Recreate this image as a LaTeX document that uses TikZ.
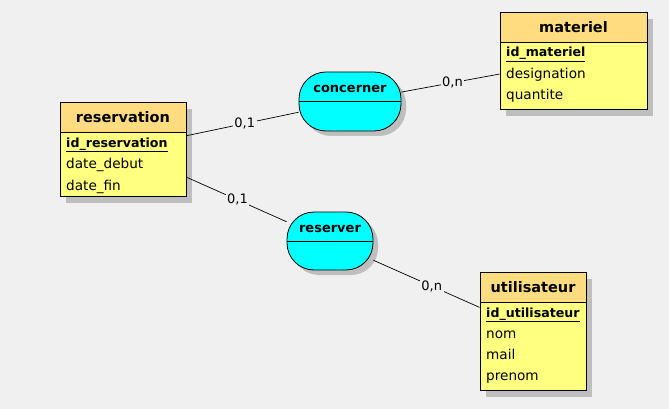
\documentclass[tikz,border=0pt]{standalone}
\usepackage{fontspec}
\setmainfont{DejaVu Sans}
\usetikzlibrary{shadows, positioning}
\definecolor{bggrey}{RGB}{240, 240, 240}
\definecolor{headorange}{RGB}{255, 220, 128}
\definecolor{bodyyellow}{RGB}{255, 255, 128}
\definecolor{relcyan}{RGB}{0, 255, 255}
\definecolor{shadowgrey}{RGB}{190, 190, 190}

\tikzset{
  entity/.style={draw, line width=0.9pt, fill=bodyyellow, rectangle, inner sep=0pt,
    drop shadow={shadow xshift=6pt, shadow yshift=-7pt, fill=shadowgrey, opacity=1}},
  enthead/.style={draw, line width=0.9pt, fill=headorange, inner sep=0pt, minimum height=30pt,
    font=\fontsize{14.5}{17}\selectfont\bfseries},
  keyattr/.style={anchor=base west, inner sep=0pt, font=\fontsize{12.6}{15}\selectfont\bfseries},
  attr/.style={anchor=base west, inner sep=0pt, font=\fontsize{13.6}{16}\selectfont},
  relation/.style={draw, line width=0.8pt, fill=relcyan, rectangle, rounded corners=27pt, inner sep=0pt,
    drop shadow={shadow xshift=5pt, shadow yshift=-5pt, fill=shadowgrey, opacity=1}},
  relname/.style={anchor=base, inner sep=0pt, font=\fontsize{13}{15}\selectfont\bfseries},
  card/.style={fill=bggrey, inner sep=1.5pt, font=\fontsize{13}{15}\selectfont},
  link/.style={line width=0.7pt}
}

\begin{document}
\begin{tikzpicture}[x=1pt, y=-1pt]
  \fill[bggrey] (0, 0) rectangle (669, 409);
  \useasboundingbox (0, 0) rectangle (669, 409);

  % entities
  \node[entity, minimum width=126pt, minimum height=94pt] (reservation) at (123, 149) {};
  \node[enthead, minimum width=126pt, anchor=north] (reservationHead) at (reservation.north) {reservation};
  \node[keyattr] at (66, 147) {\underline{id\_reservation}};
  \foreach \a [count=\i] in {date\_debut, date\_fin}
    \node[attr] at (66, 147+21.5*\i) {\a};

  \node[entity, minimum width=147pt, minimum height=97pt] (materiel) at (573.5, 60.5) {};
  \node[enthead, minimum width=147pt, anchor=north] (materielHead) at (materiel.north) {materiel};
  \node[keyattr] at (506, 57) {\underline{id\_materiel}};
  \foreach \a [count=\i] in {designation, quantite}
    \node[attr] at (506, 57+21.5*\i) {\a};

  \node[entity, minimum width=106pt, minimum height=118pt] (utilisateur) at (533, 331) {};
  \node[enthead, minimum width=106pt, anchor=north] (utilisateurHead) at (utilisateur.north) {utilisateur};
  \node[keyattr] at (486, 317) {\underline{id\_utilisateur}};
  \foreach \a [count=\i] in {nom, mail, prenom}
    \node[attr] at (486, 317+21.3*\i) {\a};

  % relations
  \node[relation, minimum width=102pt, minimum height=59pt] (concerner) at (350, 101.5) {};
  \draw[line width=0.8pt] (concerner.west) -- (concerner.east);
  \node[relname] at ([yshift=9pt]concerner.center) {concerner};

  \node[relation, minimum width=86pt, minimum height=58pt] (reserver) at (330, 241) {};
  \draw[line width=0.8pt] (reserver.west) -- (reserver.east);
  \node[relname] at ([yshift=9pt]reserver.center) {reserver};

  % links
  \draw[link] (reservation) -- node[card, pos=.52] {0,1} (concerner);
  \draw[link] (concerner) -- node[card, pos=.52] {0,n} (materiel);
  \draw[link] (reservation) -- node[card, pos=.51] {0,1} (reserver);
  \draw[link] (reserver) -- node[card, pos=.55] {0,n} (utilisateur);
\end{tikzpicture}
\end{document}
